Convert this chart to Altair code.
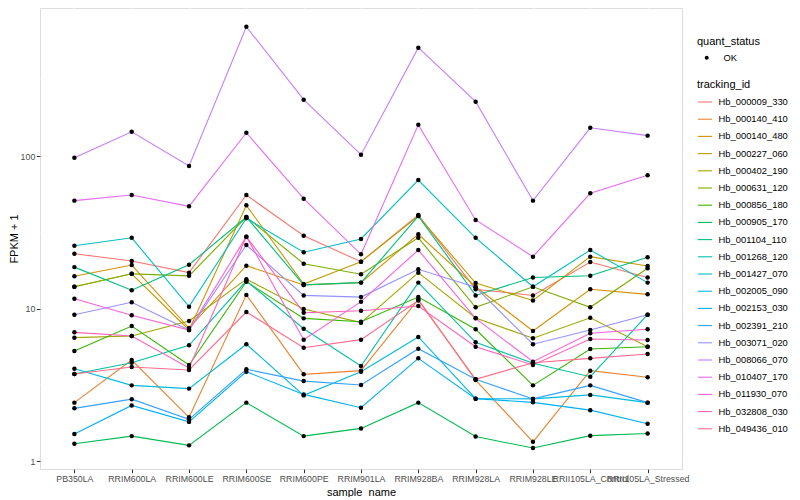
import altair as alt
import pandas as pd

samples = ["PB350LA", "RRIM600LA", "RRIM600LE", "RRIM600SE", "RRIM600PE", "RRIM901LA",
           "RRIM928BA", "RRIM928LA", "RRIM928LE", "RRII105LA_Control", "RRII105LA_Stressed"]

tracking_ids = ["Hb_000009_330", "Hb_000140_410", "Hb_000140_480", "Hb_000227_060", "Hb_000402_190",
                "Hb_000631_120", "Hb_000856_180", "Hb_000905_170", "Hb_001104_110", "Hb_001268_120",
                "Hb_001427_070", "Hb_002005_090", "Hb_002153_030", "Hb_002391_210", "Hb_003071_020",
                "Hb_008066_070", "Hb_010407_170", "Hb_011930_070", "Hb_032808_030", "Hb_049436_010"]

colors = ["#F8766D", "#EA8331", "#D89000", "#C09B00", "#A3A500", "#7CAE00", "#39B600", "#00BB4E",
          "#00BF7D", "#00C1A3", "#00BFC4", "#00BAE0", "#00B0F6", "#35A2FF", "#9590FF", "#C77CFF",
          "#E76BF3", "#FA62DB", "#FF62BC", "#FF6C90"]

# FPKM + 1 per sample (same order as `samples`)
hb_000009_330 = [22.9, 20.5, 17.2, 55.5, 30.0, 20.3, 41.0, 13.4, 12.2, 20.2, 16.0]
hb_000140_410 = [2.42, 4.60, 1.94, 12.3, 3.71, 3.92, 11.5, 3.40, 1.34, 3.92, 3.55]
hb_000140_480 = [16.3, 19.3, 7.46, 19.1, 14.3, 14.8, 30.7, 13.9, 7.13, 13.4, 12.4]
hb_000227_060 = [13.9, 16.9, 7.24, 47.5, 14.5, 20.3, 40.4, 14.7, 11.3, 21.9, 19.0]
hb_000402_190 = [6.45, 6.61, 8.29, 15.6, 9.94, 8.09, 17.2, 8.68, 6.39, 8.71, 5.63]
hb_000631_120 = [13.9, 16.9, 16.4, 39.8, 19.7, 16.8, 29.1, 10.2, 13.9, 10.2, 18.4]
hb_000856_180 = [5.27, 7.69, 4.27, 15.0, 8.63, 8.20, 11.9, 7.32, 3.14, 5.43, 5.63]
hb_000905_170 = [1.30, 1.46, 1.27, 2.42, 1.46, 1.64, 2.42, 1.45, 1.22, 1.47, 1.52]
hb_001104_110 = [18.7, 13.2, 19.4, 39.8, 14.3, 14.8, 40.4, 12.2, 16.0, 16.4, 21.7]
hb_001268_120 = [3.73, 4.42, 5.75, 15.2, 7.38, 4.21, 14.8, 6.01, 4.38, 3.58, 9.12]
hb_001427_070 = [25.8, 29.1, 10.3, 39.1, 23.4, 28.6, 69.6, 29.1, 13.9, 24.2, 14.8]
hb_002005_090 = [4.04, 3.14, 2.99, 5.84, 2.70, 3.86, 6.52, 2.57, 2.56, 2.72, 2.42]
hb_002153_030 = [1.51, 2.32, 1.81, 3.86, 2.74, 2.24, 4.72, 2.57, 2.43, 2.16, 1.76]
hb_002391_210 = [2.22, 2.55, 1.88, 4.00, 3.35, 3.16, 5.46, 3.44, 2.56, 3.14, 2.42]
hb_003071_020 = [9.12, 11.0, 7.24, 26.1, 12.2, 11.9, 18.1, 13.8, 5.84, 7.24, 9.12]
hb_008066_070 = [97.5, 144, 86, 703, 234, 102, 513, 227, 51, 153, 136]
hb_010407_170 = [51, 55.5, 46.8, 142, 52.5, 22.7, 160, 38.1, 21.9, 57, 74.8]
hb_011930_070 = [11.6, 9.04, 7.24, 29.6, 6.26, 11.1, 24.2, 8.63, 4.49, 6.89, 7.32]
hb_032808_030 = [6.99, 6.61, 4.08, 29.6, 9.40, 9.69, 10.4, 5.63, 4.27, 6.32, 6.23]
hb_049436_010 = [3.73, 4.14, 3.96, 9.50, 5.54, 6.26, 11.3, 3.44, 4.42, 4.72, 5.04]

series = [hb_000009_330, hb_000140_410, hb_000140_480, hb_000227_060, hb_000402_190,
          hb_000631_120, hb_000856_180, hb_000905_170, hb_001104_110, hb_001268_120,
          hb_001427_070, hb_002005_090, hb_002153_030, hb_002391_210, hb_003071_020,
          hb_008066_070, hb_010407_170, hb_011930_070, hb_032808_030, hb_049436_010]

y_ticks = [1, 10, 100]
minor_breaks = [3.1623, 31.623, 316.23]

rows = []
for tid, vals in zip(tracking_ids, series):
    for i, (s, v) in enumerate(zip(samples, vals)):
        rows.append({"tracking_id": tid, "sample_name": s, "idx": i, "value": v, "quant_status": "OK"})
df = pd.DataFrame(rows)
minor_df = pd.DataFrame({"value": minor_breaks})

FONT = "Liberation Sans"

x_enc = alt.X("sample_name:N", sort=samples,
              scale=alt.Scale(type="point", padding=0.6),
              axis=alt.Axis(title="sample_name", labelAngle=0, grid=True, gridColor="white",
                            gridWidth=1.4, domain=False, tickColor="#333333", tickSize=3.7,
                            labelColor="#4D4D4D", labelFontSize=8.8, labelPadding=1.5,
                            titlePadding=3, labelFont=FONT, titleFont=FONT, titleFontSize=11,
                            titleFontWeight="normal", titleColor="black"))
y_enc = alt.Y("value:Q",
              scale=alt.Scale(type="log", domain=[0.889, 933], nice=False),
              axis=alt.Axis(title="FPKM + 1", values=y_ticks, format="d", grid=True,
                            gridColor="white", gridWidth=1.4, domain=False, tickColor="#333333",
                            tickSize=3.7, labelColor="#4D4D4D", labelFontSize=8.8, labelPadding=1.5,
                            titlePadding=1, labelFont=FONT, titleFont=FONT, titleFontSize=11,
                            titleFontWeight="normal", titleColor="black"))

minor = alt.Chart(minor_df).mark_rule(color="white", strokeWidth=0.7).encode(
    y=alt.Y("value:Q", scale=alt.Scale(type="log", domain=[0.889, 933], nice=False))
)

lines = alt.Chart(df).mark_line(strokeWidth=1.1).encode(
    x=x_enc, y=y_enc,
    color=alt.Color("tracking_id:N", sort=tracking_ids,
                    scale=alt.Scale(domain=tracking_ids, range=colors),
                    legend=alt.Legend(title="tracking_id", orient="none", legendX=657, legendY=71,
                                      symbolType="stroke", symbolSize=200, symbolStrokeWidth=1.1,
                                      labelFontSize=9.4, titleFontSize=11, titlePadding=4,
                                      rowPadding=4.2, labelOffset=5.5, padding=0,
                                      labelFont=FONT, titleFont=FONT, titleFontWeight="normal",
                                      labelColor="black", titleColor="black", symbolLimit=50)),
    detail="tracking_id:N",
    order=alt.Order("idx:Q"),
)

points = alt.Chart(df).mark_point(filled=True, size=20, opacity=1, shape="circle").encode(
    x=x_enc, y=y_enc,
    color=alt.Color("quant_status:N", scale=alt.Scale(range=["black"]),
                    legend=alt.Legend(title="quant_status", orient="none", legendX=657, legendY=28,
                                      symbolType="circle", symbolSize=16, labelFontSize=9.4,
                                      titleFontSize=11, titlePadding=6, labelOffset=12,
                                      padding=0, labelFont=FONT, titleFont=FONT,
                                      titleFontWeight="normal", labelColor="black",
                                      titleColor="black", symbolOffset=5)),
)

chart = alt.layer(minor, lines, points).resolve_scale(color="independent").properties(
    width=642, height=461,
    autosize=alt.AutoSizeParams(type="none"),
    padding={"left": 32, "top": 0, "right": 110, "bottom": 28},
).configure_view(fill="#EBEBEB", stroke=None).configure(font=FONT)

chart.save("out.html", embed_options={"renderer": "svg", "actions": False})
